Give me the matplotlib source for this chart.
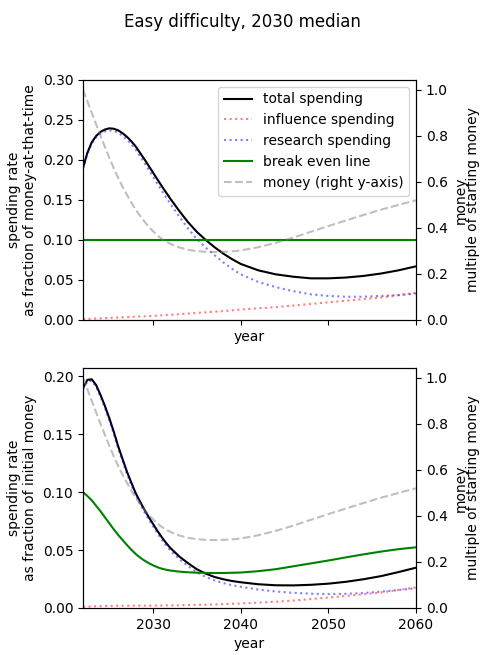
import numpy as np
import matplotlib
matplotlib.use("Agg")
import matplotlib.pyplot as plt

# years: half-yearly to 2032, yearly to 2040, then every two years
years = [2022, 2022.5, 2023, 2023.5, 2024, 2024.5, 2025, 2025.5, 2026, 2026.5,
         2027, 2027.5, 2028, 2028.5, 2029, 2029.5, 2030, 2030.5, 2031, 2031.5, 2032,
         2033, 2034, 2035, 2036, 2037, 2038, 2039, 2040,
         2042, 2044, 2046, 2048, 2050, 2052, 2054, 2056, 2058, 2060]

# money as multiple of starting money (right axis, both panels)
money = [1.0, 0.95, 0.90, 0.85, 0.80, 0.752, 0.705, 0.66, 0.618, 0.58,
         0.545, 0.511, 0.48, 0.453, 0.428, 0.405, 0.385, 0.367, 0.352, 0.34, 0.33,
         0.315, 0.305, 0.299, 0.296, 0.295, 0.296, 0.298, 0.302,
         0.316, 0.335, 0.358, 0.383, 0.408, 0.432, 0.456, 0.479, 0.50, 0.52]

# top panel: spending as fraction of money-at-that-time
total_top = [0.190, 0.209, 0.222, 0.230, 0.235, 0.238, 0.2395, 0.239, 0.237, 0.2335,
             0.229, 0.2235, 0.217, 0.209, 0.201, 0.1925, 0.184, 0.1755, 0.167, 0.159, 0.151,
             0.136, 0.122, 0.110, 0.100, 0.091, 0.083, 0.076, 0.070,
             0.062, 0.057, 0.054, 0.052, 0.052, 0.053, 0.055, 0.058, 0.062, 0.067]
influence_top = [0.001, 0.0013, 0.0015, 0.0018, 0.002, 0.0023, 0.0025, 0.0028, 0.003, 0.0033,
                 0.0035, 0.0038, 0.004, 0.0043, 0.0045, 0.0048, 0.005, 0.0054, 0.0058, 0.0062, 0.0065,
                 0.0072, 0.008, 0.0088, 0.0095, 0.0103, 0.011, 0.012, 0.013,
                 0.0145, 0.016, 0.018, 0.020, 0.022, 0.024, 0.026, 0.028, 0.031, 0.034]
research_top = [0.189, 0.2077, 0.2205, 0.2282, 0.233, 0.2357, 0.237, 0.2362, 0.234, 0.2302,
                0.2255, 0.2197, 0.213, 0.2047, 0.1965, 0.1877, 0.179, 0.1701, 0.1612, 0.1528, 0.1445,
                0.129, 0.114, 0.101, 0.0905, 0.081, 0.072, 0.064, 0.057,
                0.0475, 0.041, 0.036, 0.032, 0.030, 0.029, 0.029, 0.030, 0.031, 0.033]
break_even_top = [0.10] * len(years)

# bottom panel: spending as fraction of initial money
total_bot = [0.190, 0.197, 0.1975, 0.1925, 0.184, 0.1745, 0.164, 0.1525, 0.140, 0.129,
             0.118, 0.1085, 0.0994, 0.092, 0.085, 0.0785, 0.0725, 0.0665, 0.061, 0.056, 0.0516,
             0.0444, 0.0386, 0.0334, 0.0297, 0.0268, 0.0248, 0.0233, 0.0222,
             0.0205, 0.0196, 0.0195, 0.0200, 0.0210, 0.0226, 0.0248, 0.0275, 0.031, 0.0348]
influence_bot = [0.001, 0.0012, 0.0014, 0.0015, 0.0016, 0.0017, 0.0018, 0.0018, 0.0019, 0.0019,
                 0.0019, 0.002, 0.002, 0.002, 0.002, 0.002, 0.002, 0.0021, 0.0021, 0.0022, 0.0022,
                 0.0023, 0.0025, 0.0027, 0.0028, 0.003, 0.0033, 0.0036, 0.0039,
                 0.0046, 0.0054, 0.0064, 0.0077, 0.009, 0.0104, 0.0119, 0.0134, 0.0155, 0.0177]
research_bot = [0.189, 0.1958, 0.1961, 0.191, 0.1824, 0.1728, 0.1622, 0.1507, 0.1381, 0.1271,
                0.1161, 0.1065, 0.0974, 0.09, 0.083, 0.0765, 0.0705, 0.0644, 0.0589, 0.0538, 0.0494,
                0.0421, 0.0361, 0.0307, 0.0269, 0.0238, 0.0215, 0.0197, 0.0183,
                0.0159, 0.0142, 0.0131, 0.0123, 0.0120, 0.0122, 0.0129, 0.0141, 0.0155, 0.0171]
break_even_bot = [0.100, 0.0967, 0.0930, 0.0882, 0.0835, 0.0783, 0.0732, 0.068, 0.0632, 0.0588,
                  0.0545, 0.0504, 0.0467, 0.0436, 0.041, 0.0387, 0.0368, 0.0352, 0.0339, 0.033, 0.0323,
                  0.0314, 0.0308, 0.0305, 0.0303, 0.0302, 0.0302, 0.0304, 0.0306,
                  0.0318, 0.0335, 0.036, 0.0385, 0.041, 0.0437, 0.0463, 0.0487, 0.0508, 0.0524]


def draw_panel(ax, total, influence, research, break_even, ylabel):
    ax.plot(years, total, color='black', label='total spending')
    ax.plot(years, influence, color='red', linestyle=':', alpha=0.5, label='influence spending')
    ax.plot(years, research, color='blue', linestyle=':', alpha=0.5, label='research spending')
    ax.plot(years, break_even, color='green', label='break even line')
    ax.set_ylabel(ylabel)
    ax.set_xlabel('year')
    ax.set_xlim(2022, 2060)
    ax2 = ax.twinx()
    ax2.plot(years, money, color='gray', linestyle='--', alpha=0.5, label='money (right y-axis)')
    ax2.set_ylim(0, 1.043)
    ax2.set_ylabel('money\nmultiple of starting money', linespacing=0.9)
    return ax2


fig, (ax_top, ax_bot) = plt.subplots(2, 1, sharex=True, figsize=(4.84, 6.55), dpi=100)
fig.subplots_adjust(left=0.1715, right=0.8595, top=0.878, bottom=0.0718, hspace=0.2)
fig.suptitle('Easy difficulty, 2030 median')

ax2_top = draw_panel(ax_top, total_top, influence_top, research_top, break_even_top,
                     'spending rate\nas fraction of money-at-that-time')
ax_top.set_ylim(0, 0.30)
ax_top.tick_params(labelbottom=False)
h1, l1 = ax_top.get_legend_handles_labels()
h2, l2 = ax2_top.get_legend_handles_labels()
ax2_top.legend(h1 + h2, l1 + l2, loc='upper right')

draw_panel(ax_bot, total_bot, influence_bot, research_bot, break_even_bot,
           'spending rate\nas fraction of initial money')
ax_bot.set_ylim(bottom=0)
ax_bot.set_xticks([2030, 2040, 2050, 2060])

fig.savefig('out.png', dpi=100)
